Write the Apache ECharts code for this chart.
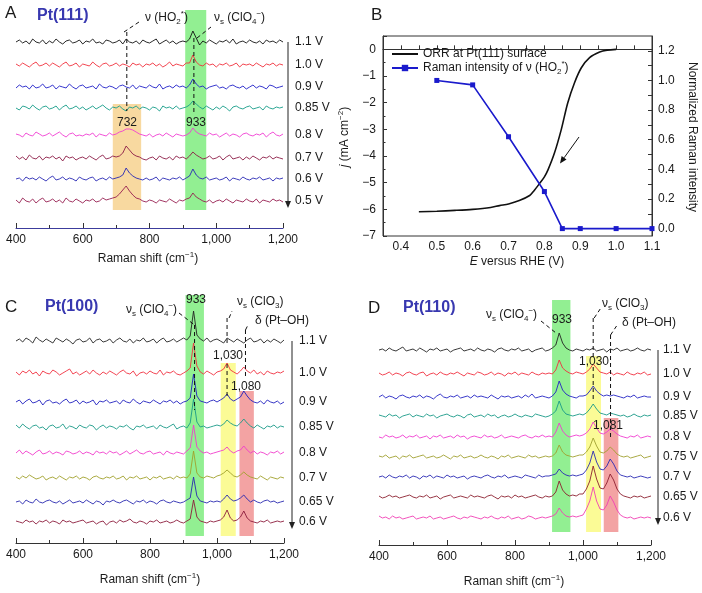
<!DOCTYPE html>
<html><head><meta charset="utf-8">
<script src="https://cdn.jsdelivr.net/npm/echarts@6/dist/echarts.min.js"></script>
<style>html,body{margin:0;padding:0;background:#fff}#c{width:702px;height:593px}</style>
</head><body><div id="c"></div>
<script>
// ---------- DATA ----------
const shift = [400,410,420,430,440,450,460,470,480,490,500,510,520,530,540,550,560,570,580,590,
600,610,620,630,640,650,660,670,680,690,700,710,720,730,740,750,760,770,780,790,
800,810,820,830,840,850,860,870,880,890,900,910,920,930,940,950,960,970,980,990,
1000,1010,1020,1030,1040,1050,1060,1070,1080,1090,1100,1110,1120,1130,1140,1150,1160,1170,1180,1190,1200];

// Pt(111) spectra (relative intensity, a.u.)
const pt111_1p1 = [0,2,-1,1,-2,3,0,-1,2,-2, 1,-1,3,0,-2,1,2,-1,0,2, -2,1,0,3,-1,0,-2,2,1,-1, 0,2,-2,3,0,-1,1,-2,2,0, -1,1,3,-2,0,2,-1,1,-2,0, 1,0,3,11,4,-3,1,-1,2,0, -2,1,0,2,-1,3,-2,0,1,-1, 2,0,-1,1,-2,2,0,1,-1,2, 0];
const pt111_1p0 = [1,-1,2,0,-2,1,3,-1,0,2, -1,2,0,-2,1,3,-1,0,2,-2, 1,0,-1,3,0,-2,1,2,-1,0, 2,-1,1,0,-2,2,0,1,-2,1, 0,2,-1,1,-2,0,3,-1,1,0, -1,2,2,10,3,0,-1,2,0,1, -2,1,0,2,-1,0,2,-2,1,0, 1,-1,2,0,-2,1,0,2,-1,1, 0];
const pt111_0p9 = [-1,2,0,1,-2,2,-1,0,3,-1, 0,2,-2,1,0,-1,3,0,-2,1, 2,-1,0,1,-2,3,0,-1,1,0, -2,1,2,0,-1,2,-2,1,0,-1, 2,0,-1,3,-2,0,1,-1,2,0, 1,-1,2,8,3,0,1,-2,0,1, 2,-1,0,-2,1,2,0,-1,1,-2, 0,2,-1,1,0,-2,2,1,-1,0, 1];
const pt111_0p85 = [0,-2,2,1,-1,3,0,-2,1,2, -1,0,2,-2,1,3,-1,0,2,-1, 1,-2,0,2,-1,1,3,0,-2,1, 0,2,-1,-3,1,0,2,-1,1,0, -2,1,0,-3,2,0,1,-1,2,-1, 0,1,3,7,4,1,-1,2,0,-2, 1,-1,2,0,-3,1,2,0,-1,1, 2,-1,0,1,-2,2,0,-1,1,0, 1];
const pt111_0p8 = [1,0,-2,2,0,-1,3,1,-1,0, 2,-1,1,3,0,-2,1,2,-1,0, -1,1,0,2,-2,1,0,-1,2,0, 1,3,4,6,6,5,3,1,0,-1, 1,-2,0,1,-1,2,0,-2,1,0, -1,0,2,7,3,1,0,-1,2,0, 1,-2,0,2,-1,1,0,-2,1,2, 0,-1,1,0,2,-2,1,3,0,-1, 1];
const pt111_0p7 = [2,-1,1,-2,3,0,-1,2,-2,1, 0,2,-1,1,-3,2,0,1,-2,0, 1,-1,2,0,-2,1,3,-1,0,2, 1,2,5,12,8,4,2,1,-1,-2, 0,1,-2,2,0,-1,1,-2,2,0, 1,-1,2,6,3,1,-1,0,2,-1, 0,2,-2,1,3,-1,0,1,-2,1, -1,2,0,-2,1,0,2,-1,1,0, -1];
const pt111_0p6 = [0,1,-2,2,0,1,-1,2,0,-2, 1,3,-1,0,2,-1,1,0,-2,2, 0,-1,1,2,-2,0,1,-1,2,0, 1,2,4,11,6,3,1,0,-1,1, -1,0,2,-2,1,0,-1,1,0,2, -1,1,3,10,4,1,0,2,-1,0, 1,-1,0,2,-2,1,0,-1,2,0, -1,1,0,2,-1,0,1,-2,1,0, 1];
const pt111_0p5 = [1,-2,3,0,-1,2,-2,1,3,-1, 0,2,-1,1,-2,3,0,-1,2,0, -2,1,0,2,-1,0,3,1,2,3, 4,7,11,15,10,6,3,2,0,-1, 1,0,-2,1,0,-1,2,0,-2,1, 0,2,3,8,4,2,0,-1,1,-2, 0,1,-1,2,0,-2,1,0,-1,2, 0,-1,2,-2,1,0,-1,2,0,1, -1];
const pt111Volts = ['1.1 V','1.0 V','0.9 V','0.85 V','0.8 V','0.7 V','0.6 V','0.5 V'];
const pt111Offset = [186,163,141,120,93,70,49,27];

// Pt(100) spectra
const pt100_1p1 = [0,2,-1,3,1,-2,4,1,-1,2, 0,-2,3,1,-1,2,0,-3,1,2, -1,0,3,-2,1,2,-1,0,2,-2, 1,3,0,-1,2,-2,1,0,3,-1, 0,2,-2,1,3,-1,0,2,-1,1, 3,1,5,30,6,2,0,3,-1,1, 2,0,-2,3,1,-1,2,0,-2,1, 3,-1,0,2,-2,1,-1,2,0,-2, 1];
const pt100_1p0 = [1,-2,2,0,3,-1,1,-3,2,0, -1,3,1,-2,0,2,4,-1,1,-2, 0,2,-1,3,0,-2,1,-1,2,0, -2,1,3,0,-1,2,-3,0,1,-1, 2,0,-1,3,-2,1,0,2,-1,-2, 0,2,5,30,7,1,-1,2,0,-2, 1,2,4,10,3,1,-1,2,6,2, 0,3,-1,1,-2,2,0,-1,1,0, 2];
const pt100_0p9 = [0,2,-2,1,3,-1,0,2,-3,1, 2,-1,0,-2,1,3,-1,0,2,-2, 1,-1,0,2,-3,1,0,2,-1,0, 1,-2,2,0,-1,3,0,-2,1,0, -1,2,0,-2,1,0,2,-1,1,-2, 0,1,4,28,6,1,0,-1,1,2, 0,2,4,8,3,1,3,5,11,6, 2,0,-1,1,-2,2,0,-1,1,-2, 0];
const pt100_0p85 = [2,-1,3,0,-2,1,2,-1,0,-3, 1,2,-1,0,3,-2,1,0,-2,2, 0,-1,2,1,-3,0,2,-1,1,0, -2,1,0,2,-1,-3,1,0,2,-1, 0,1,-2,2,0,-1,1,3,-2,0, 1,-1,4,28,5,0,1,-1,0,1, 2,1,3,7,4,2,1,4,8,4, 1,-1,2,0,-2,1,0,2,-1,1, 0];
const pt100_0p8 = [0,3,-1,2,0,-2,1,3,-1,0, 2,-1,1,0,-2,2,1,-1,0,2, -1,1,0,-2,2,0,1,-1,2,0, 1,-2,0,2,-1,1,3,0,-1,1, 2,-1,0,1,-2,2,0,-1,1,0, -1,2,5,28,6,2,0,1,-1,0, 1,2,3,6,2,0,2,3,7,3, 0,2,-1,1,0,-2,1,0,2,-1, 1];
const pt100_0p7 = [1,-1,2,0,3,1,-1,0,2,-2, 0,1,-1,2,0,-2,1,0,2,-1, 1,0,-2,1,2,0,-1,1,0,2, -1,0,2,-2,1,0,2,-1,0,1, -2,1,0,2,-1,0,1,-1,2,0, 1,0,4,27,5,1,0,2,1,0, 2,3,5,8,5,2,1,3,6,3, 1,0,-1,2,0,-2,1,0,-1,1, 0];
const pt100_0p65 = [0,1,-2,2,0,-1,3,0,-1,1, 2,0,-1,1,-2,0,2,-1,0,1, -1,2,0,-2,1,0,-3,1,0,2, 0,-1,1,2,0,-2,1,0,2,-1, 1,0,-2,1,2,0,-1,1,0,-1, 0,2,4,25,6,1,0,-1,1,0, 1,0,3,7,3,1,2,4,7,3, 0,2,0,-1,1,2,0,1,-1,0, 1];
const pt100_0p6 = [1,0,-1,2,0,1,-2,1,0,2, -1,1,0,-2,2,0,1,-1,0,1, 2,-1,0,1,-2,0,1,-3,0,1, -1,2,0,1,3,0,-1,1,0,-2, 1,0,2,-1,0,1,-1,0,2,0, -1,1,3,22,5,1,0,-1,1,0, 1,2,5,12,4,1,2,5,11,4, 1,0,-1,1,0,2,-1,0,1,0, 1];
const pt100Volts = ['1.1 V','1.0 V','0.9 V','0.85 V','0.8 V','0.7 V','0.65 V','0.6 V'];
const pt100Offset = [202,170,141,116,90,65,41,21];

// Pt(110) spectra
const pt110_1p1 = [0,1,-1,2,0,-1,1,3,-1,0, 1,-1,2,0,-2,1,0,2,-1,0, 1,-2,0,1,2,-1,0,1,-1,2, 0,-1,1,0,-2,1,2,0,-1,1, 0,2,-1,0,1,-2,0,1,2,-1, 0,2,5,17,7,2,0,-1,1,0, -1,1,0,2,-1,0,1,-2,1,0, 2,-1,0,1,-1,0,2,0,-1,1, 0];
const pt110_1p0 = [1,-1,0,2,-1,1,0,-2,1,2, 0,-1,1,2,-2,0,1,-1,2,0, -1,1,0,2,0,-2,1,0,-1,2, 1,-1,0,2,-1,1,0,-2,1,0, 2,-1,1,0,-1,2,0,-1,1,0, 1,0,4,14,6,3,1,0,2,1, 0,2,5,10,6,2,1,0,2,-1, 1,0,-1,2,0,-1,1,0,2,-1, 0];
const pt110_0p9 = [0,2,-1,1,0,-2,1,2,0,-1, 1,0,2,-1,1,0,-2,1,3,0, -1,1,0,2,-1,0,1,-1,2,0, 1,0,-1,2,0,-2,1,0,1,-1, 0,1,-1,2,0,3,-1,0,1,0, -1,1,5,16,7,3,1,0,-1,1, 1,2,6,11,6,3,1,2,1,2, 1,0,-1,1,0,2,-1,0,1,0, 0];
const pt110_0p85 = [1,0,-1,2,0,1,-2,0,1,2, -1,1,0,-1,2,0,1,-2,0,1, 2,0,-1,1,0,-2,1,2,-1,0, 1,-1,2,0,1,-2,0,1,-1,0, 2,0,-1,1,0,-1,2,1,0,-1, 0,2,5,15,6,2,1,0,1,2, 1,3,7,12,7,3,2,1,3,2, 1,0,1,-1,0,2,0,-1,1,0, 1];
const pt110_0p8 = [0,-1,2,0,1,-1,0,2,-1,1, 0,2,-1,0,1,-2,1,0,2,-1, 0,1,-1,2,0,1,-2,0,1,0, -1,2,0,1,-1,0,2,-1,0,1, 0,-1,1,2,0,-1,1,0,2,0, 1,0,5,14,6,2,0,1,2,1, 2,4,8,15,9,4,3,5,8,6, 3,1,0,-1,1,0,2,-1,0,1, 0];
const pt110_0p75 = [1,0,2,-1,0,1,-2,1,0,2, -1,0,1,2,-1,0,1,-1,0,2, 0,-2,1,0,2,-1,0,1,-1,0, 2,0,-1,1,0,-2,1,0,2,-1, 0,1,0,-1,2,0,1,-1,0,1, 0,1,4,12,5,2,1,0,1,2, 2,5,10,19,11,5,4,6,10,7, 3,1,0,1,-1,0,1,2,-1,0, 1];
const pt110_0p7 = [0,1,-1,2,0,-1,1,0,2,-1, 1,0,-2,1,0,2,-1,1,0,-1, 2,0,1,-1,0,1,-2,0,1,0, -1,1,2,0,-1,1,0,2,-1,0, 1,0,-1,2,1,0,-1,2,0,1, 1,2,3,8,4,2,1,2,1,2, 3,7,14,26,15,8,7,11,18,13, 6,2,1,0,1,-1,0,1,0,-1, 0];
const pt110_0p65 = [1,-1,0,2,0,1,-1,0,1,2, 0,-1,1,0,2,-1,0,1,-2,0, 1,2,-1,0,1,0,-1,2,0,1, 0,-1,1,2,0,-2,1,0,1,-1, 2,0,1,-1,0,1,2,0,-1,1, 0,1,5,16,7,3,1,2,1,3, 3,8,16,31,18,9,8,14,23,17, 8,3,1,0,-1,1,0,1,-1,0, 1];
const pt110_0p6 = [2,0,1,-1,2,0,1,-1,0,1, 2,-1,0,1,0,2,-1,0,1,-1, 0,1,2,0,-1,1,0,2,1,0, -1,1,0,2,0,-1,1,0,2,-1, 0,1,-1,0,2,1,-1,0,1,0, 1,2,4,10,5,2,1,2,1,2, 3,9,17,31,17,9,8,13,22,16, 8,3,1,0,1,-1,0,1,0,1, 0];
const pt110Volts = ['1.1 V','1.0 V','0.9 V','0.85 V','0.8 V','0.75 V','0.7 V','0.65 V','0.6 V'];
const pt110Offset = [195,171,148,129,108,88,68,48,27];

// Panel B
const orrE = [0.45,0.50,0.55,0.60,0.65,0.675,0.70,0.73,0.759,0.77,0.786,0.80,0.81,0.828,0.847,0.865,0.884,0.903,0.926,0.954,0.975,1.00];
const orrJ = [-6.09,-6.07,-6.04,-6.00,-5.93,-5.86,-5.80,-5.67,-5.48,-5.32,-5.04,-4.78,-4.52,-3.89,-3.01,-2.01,-1.25,-0.69,-0.31,-0.10,-0.03,0.0];
const ramanE = [0.5,0.6,0.7,0.8,0.85,0.9,1.0,1.1];
const ramanI = [1.0,0.97,0.62,0.25,0.0,0.0,0.0,0.0];

// peak positions (cm-1)
const peakHO2 = 732, peakClO4 = 933, peakClO3 = 1030, peakPtOH100 = 1085, peakPtOH110 = 1081;

// ---------- STYLE ----------
const F = "'Liberation Sans', Arial, Helvetica, sans-serif";
const TXT = '#1a1a1a';
const colA = ['#111111','#f0303c','#2020c8','#149c88','#f03cd2','#8c1c46','#2828b4','#961e50'];
const colC = ['#222222','#f03040','#2020c0','#1a9a88','#f03ccc','#a0a02a','#2828b0','#8c1c3c'];
const colD = ['#222222','#f03040','#2424c4','#1a9a88','#f03cd0','#a0a030','#2a2ab4','#8c2030','#f040b4'];
const ORANGE='#f8d9a0', GREEN='#92ef92', YELLOW='#fbfb96', RED='#f3a3a3';
const bandsA = [[690,775,18,124,ORANGE],[907,970,18,219,GREEN]];
const bandsC = [[906,961,7,248,GREEN],[1011,1056,7,180,YELLOW],[1067,1110,7,152,RED]];
const bandsD = [[909,963,13,245,GREEN],[1009,1053,13,189,YELLOW],[1061,1104,13,127,RED]];

const rich = {
  n:{fontFamily:F,fontSize:12,color:TXT,lineHeight:16},
  i:{fontFamily:F,fontSize:12,fontStyle:'italic',color:TXT,lineHeight:16},
  s:{fontFamily:F,fontSize:8,color:TXT,verticalAlign:'bottom',lineHeight:9},
  p:{fontFamily:F,fontSize:8,color:TXT,verticalAlign:'top',lineHeight:9}
};

const chart = echarts.init(document.getElementById('c'));

function comma(v){ return String(v).replace(/\B(?=(\d{3})+(?!\d))/g, ','); }
function specX(grid, lineColor){
  return {type:'value', gridIndex:grid, min:400, max:1200, interval:200,
    axisLine:{show:true, lineStyle:{color:lineColor, width:1}},
    axisTick:{show:true, inside:true, length:5, lineStyle:{color:'#333'}},
    minorTick:{show:true, splitNumber:2, length:3, lineStyle:{color:'#333'}},
    splitLine:{show:false}, minorSplitLine:{show:false},
    axisLabel:{fontFamily:F, fontSize:12, color:TXT, margin:6, formatter:v=>comma(v)}};
}
function specY(grid, max){ return {type:'value', gridIndex:grid, min:0, max:max, show:false, splitLine:{show:false}}; }
function spectra(traces, offsets, colors, xi, yi){
  return traces.map((tr,k)=>({type:'line', xAxisIndex:xi, yAxisIndex:yi, symbol:'none', silent:true, z:3,
    lineStyle:{width:0.9, color:colors[k]}, itemStyle:{color:colors[k]},
    data: shift.map((x,i)=>[x, offsets[k]+tr[i]])}));
}
function bandSeries(bands, xi, yi){
  return {type:'line', xAxisIndex:xi, yAxisIndex:yi, data:[], silent:true, z:1,
    markArea:{silent:true, data: bands.map(b=>[{xAxis:b[0], yAxis:b[2], itemStyle:{color:b[4], opacity:1}},{xAxis:b[1], yAxis:b[3]}])}};
}

const option = {
  animation:false,
  backgroundColor:'#fff',
  textStyle:{fontFamily:F},
  grid:[
    {left:16, top:10, width:267, height:218},
    {left:383, top:36, width:269, height:200, show:true, borderColor:'#333', borderWidth:1, backgroundColor:'transparent'},
    {left:16, top:295, width:268, height:248},
    {left:379, top:300, width:272, height:245}
  ],
  xAxis:[
    specX(0,'#3c3c9c'),
    {type:'value', gridIndex:1, min:0.35, max:1.1, interval:0.05,
     axisLine:{show:true, lineStyle:{color:'#333'}},
     axisTick:{show:true, inside:true, length:4, lineStyle:{color:'#333'}},
     splitLine:{show:false},
     axisLabel:{fontFamily:F, fontSize:12, color:TXT, margin:5,
       formatter:v=> (Math.round(v*100)%10===0) ? v.toFixed(1) : ''}},
    specX(2,'#333'),
    specX(3,'#333')
  ],
  yAxis:[
    specY(0,218),
    {type:'value', gridIndex:1, min:-7, max:0.5, interval:1, position:'left',
     axisLine:{show:true, lineStyle:{color:'#333'}},
     axisTick:{show:true, inside:true, length:4, lineStyle:{color:'#333'}},
     minorTick:{show:true, splitNumber:2, length:2.5, lineStyle:{color:'#333'}},
     splitLine:{show:false}, minorSplitLine:{show:false},
     axisLabel:{fontFamily:F, fontSize:12, color:TXT, margin:7, showMaxLabel:false,
       formatter:v=> v<0 ? '\u2212'+Math.abs(v) : String(v)}},
    {type:'value', gridIndex:1, min:-0.05, max:1.3, position:'right',
     axisLine:{show:true, lineStyle:{color:'#333'}},
     axisTick:{show:true, inside:true, length:4, lineStyle:{color:'#333'}, customValues:[0,0.1,0.2,0.3,0.4,0.5,0.6,0.7,0.8,0.9,1.0,1.1,1.2]},
     splitLine:{show:false},
     axisLabel:{fontFamily:F, fontSize:12, color:TXT, margin:6, customValues:[0,0.2,0.4,0.6,0.8,1.0,1.2], formatter:v=>v.toFixed(1)}},
    specY(2,248),
    specY(3,245)
  ],
  legend:{
    left:386, top:43, orient:'vertical', itemWidth:26, itemHeight:8, itemGap:0,
    data:[{name:'orr', itemStyle:{opacity:0}}, 'raman'],
    textStyle:{fontFamily:F, fontSize:12, color:TXT, rich:rich},
    formatter: n => n==='orr' ? '{n|ORR at Pt(111) surface}' : '{n|Raman intensity of \u03bd (HO}{s|2}{p|*}{n|)}'
  },
  series:[
    bandSeries(bandsA,0,0),
    bandSeries(bandsC,2,3),
    bandSeries(bandsD,3,4),
    ...spectra([pt111_1p1,pt111_1p0,pt111_0p9,pt111_0p85,pt111_0p8,pt111_0p7,pt111_0p6,pt111_0p5], pt111Offset, colA, 0, 0),
    ...spectra([pt100_1p1,pt100_1p0,pt100_0p9,pt100_0p85,pt100_0p8,pt100_0p7,pt100_0p65,pt100_0p6], pt100Offset, colC, 2, 3),
    ...spectra([pt110_1p1,pt110_1p0,pt110_0p9,pt110_0p85,pt110_0p8,pt110_0p75,pt110_0p7,pt110_0p65,pt110_0p6], pt110Offset, colD, 3, 4),
    {name:'orr', type:'line', xAxisIndex:1, yAxisIndex:1, symbol:'none', smooth:0.3,
     lineStyle:{color:'#111', width:1.6}, itemStyle:{color:'#111'},
     data: orrE.map((e,i)=>[e, orrJ[i]])},
    {name:'raman', type:'line', xAxisIndex:1, yAxisIndex:2, symbol:'rect', symbolSize:5,
     lineStyle:{color:'#1a1acc', width:1.6}, itemStyle:{color:'#1a1acc'},
     data: ramanE.map((e,i)=>[e, ramanI[i]])}
  ]
};
chart.setOption(option);

// ---------- ANNOTATIONS ----------
function T(x,y,text,o){
  o=o||{};
  return {type:'text', x:x, y:y, rotation:o.rot||0, z:100, silent:true,
    style:{text:text, rich:rich, font:(o.bold?'bold ':'')+(o.size||12)+'px '+F, fill:o.color||TXT,
      align:o.align||'left', verticalAlign:'middle', textAlign:o.align||'left', textVerticalAlign:'middle'}};
}
function L(x1,y1,x2,y2,dash,color){
  return {type:'line', z:100, silent:true, shape:{x1:x1,y1:y1,x2:x2,y2:y2},
    style:{stroke:color||'#111', lineWidth:1, lineDash:dash?[4,3]:null}};
}
function arrow(x1,y1,x2,y2,color){
  const dx=x2-x1, dy=y2-y1, len=Math.hypot(dx,dy), ux=dx/len, uy=dy/len;
  const hl=7, hw=3, bx=x2-ux*hl, by=y2-uy*hl;
  return [L(x1,y1,bx,by,false,color),
    {type:'polygon', z:100, silent:true, shape:{points:[[x2,y2],[bx+uy*hw,by-ux*hw],[bx-uy*hw,by+ux*hw]]}, style:{fill:color||'#111'}}];
}
const P = (g,x,y)=>chart.convertToPixel({gridIndex:g},[x,y]);
const g = [];

// panel letters / titles
g.push(T(5,13,'A',{size:17}), T(37,16,'Pt(111)',{size:16,bold:true,color:'#3838b0'}));
g.push(T(371,15,'B',{size:17}));
g.push(T(5,307,'C',{size:17}), T(45,307,'Pt(100)',{size:16,bold:true,color:'#3838b0'}));
g.push(T(368,308,'D',{size:17}), T(403,308,'Pt(110)',{size:16,bold:true,color:'#3838b0'}));

// voltage labels + arrows
function voltLabels(grid, volts, offs, lx, ax){
  volts.forEach((v,k)=>{ g.push(T(lx, P(grid,1200,offs[k])[1], v)); });
  const yt=P(grid,1200,offs[0])[1], yb=P(grid,1200,offs[offs.length-1])[1]+7;
  g.push(...arrow(ax,yt,ax,yb,'#222'));
}
voltLabels(0, pt111Volts, pt111Offset, 295, 288);
voltLabels(2, pt100Volts, pt100Offset, 299, 292);
voltLabels(3, pt110Volts, pt110Offset, 663, 658);

// axis titles
const ramanTitle='{n|Raman shift (cm}{p|\u22121}{n|)}';
g.push(T(148,259,ramanTitle,{align:'center'}));
g.push(T(150,580,ramanTitle,{align:'center'}));
g.push(T(514,582,ramanTitle,{align:'center'}));
g.push(T(517,262,'{i|E}{n| versus RHE (V)}',{align:'center'}));
g.push(T(345,137,'{i|j}{n| (mA cm}{p|\u22122}{n|)}',{align:'center',rot:Math.PI/2}));
g.push(T(692,137,'Normalized Raman intensity',{align:'center',rot:-Math.PI/2}));

// Panel A annotations
const ClO4 = '{n|\u03bd}{s|s}{n| (ClO}{s|4}{p|\u2212}{n|)}';
const ClO3 = '{n|\u03bd}{s|s}{n| (ClO}{s|3}{n|)}';
let xa = P(0,peakHO2,0)[0], xb = P(0,peakClO4,0)[0];
g.push(T(145,18,'{n|\u03bd (HO}{s|2}{p|*}{n|)}'), L(124,32,139,22,true), L(xa,32,xa,111,true));
g.push(T(214,18,ClO4), L(197,38,211,27,true), L(xb,38,xb,114,true));
g.push(T(127,123,'732',{align:'center'}), T(196,123,'933',{align:'center'}));

// Panel C annotations
let c1=P(2,peakClO4,0)[0], c2=P(2,peakClO3,0)[0], c3=P(2,peakPtOH100,0)[0];
g.push(T(126,310,ClO4), L(179,313,c1,325,true), L(c1,325,c1,410,true));
g.push(T(196,300,'933',{align:'center'}));
g.push(T(237,302,ClO3), L(c2+2,318,c2+5,311,true), L(c2,318,c2,343,true), L(c2,364,c2,396,true));
g.push(T(255,321,'\u03b4 (Pt\u2013OH)'), L(c3,330,c3+3,324,true), L(c3,330,c3,378,true));
g.push(T(228,356,'1,030',{align:'center'}), T(246,387,'1,080',{align:'center'}));

// Panel D annotations
let d2=P(3,peakClO3,0)[0], d3=P(3,peakPtOH110,0)[0];
g.push(T(486,315,ClO4), L(541,321,556,333,true));
g.push(T(562,320,'933',{align:'center'}));
g.push(T(602,304,ClO3), L(d2+1,318,d2+7,309,true), L(d2,318,d2,357,true), L(d2,367,d2,402,true));
g.push(T(622,323,'\u03b4 (Pt\u2013OH)'), L(d3,335,d3+6,326,true), L(d3,335,d3,437,true));
g.push(T(594,362,'1,030',{align:'center'}), T(608,426,'1,081',{align:'center'}));

// Panel B arrow
g.push(...arrow(579,137,560,163.5,'#111'));

chart.setOption({graphic:{elements:g}});
</script></body></html>
